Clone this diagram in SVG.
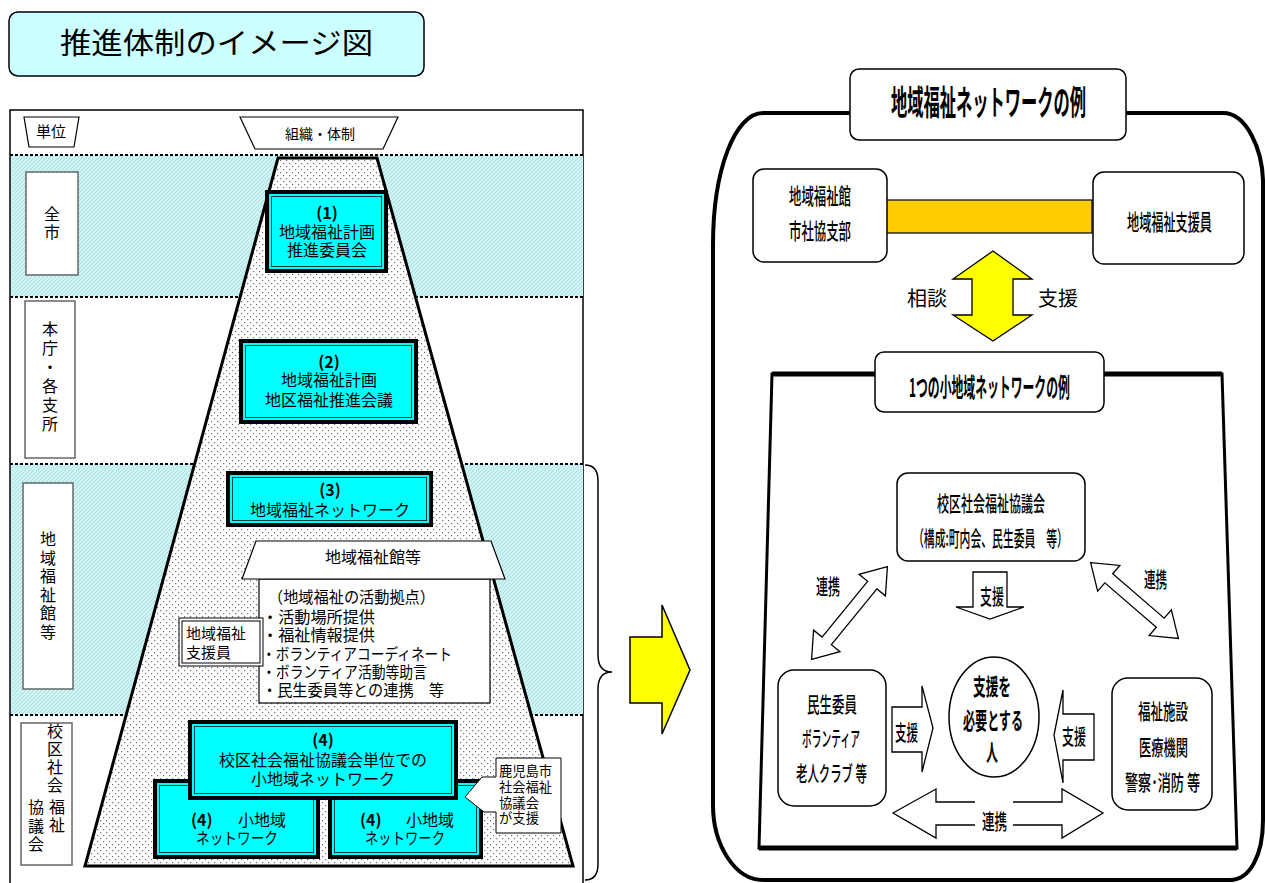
<svg xmlns="http://www.w3.org/2000/svg" width="1265" height="883" viewBox="0 0 1265 883">
<defs>
<pattern id="hatch" width="4" height="4" patternUnits="userSpaceOnUse"><rect width="4" height="4" fill="#d2f3f3"/><path d="M0,4 L4,0 M-1,1 L1,-1 M3,5 L5,3" stroke="#a3e1e1" stroke-width="1"/></pattern>
<pattern id="dots" width="6" height="6" patternUnits="userSpaceOnUse"><rect width="6" height="6" fill="#fff"/><rect x="1" y="1" width="1.2" height="1.2" fill="#707070"/><rect x="4" y="4" width="1.2" height="1.2" fill="#707070"/></pattern>
<style>
text{font-family:"Noto Sans CJK JP","Noto Sans CJK SC",sans-serif;fill:#000}
.t16{font-size:16px}
.t15{font-size:15px}
.t14{font-size:14px}
.c{text-anchor:middle}
.b{font-weight:bold}
.m{font-weight:500}
.v{writing-mode:vertical-rl;font-size:16px}
.cy{fill:#00ffff;stroke:#000;stroke-width:4}
.cyi{fill:none;stroke:#004040;stroke-width:1}
.wb{fill:#fff;stroke:#000;stroke-width:1.2}
.lab{fill:#fff;stroke:#666;stroke-width:1.5}
.rb{fill:#fff;stroke:#000;stroke-width:1.5}
.ar{fill:#fff;stroke:#000;stroke-width:1.3;stroke-linejoin:miter}
.dash{stroke:#000;stroke-width:2;stroke-dasharray:3 2}
</style>
</defs>
<rect width="1265" height="883" fill="#fff"/>

<!-- Title -->
<g id="title">
<rect x="9" y="12" width="415" height="64" rx="9" fill="#ccffff" stroke="#000" stroke-width="1.5"/>
<text x="60" y="54" style="font-size:29px" textLength="313" lengthAdjust="spacingAndGlyphs">推進体制のイメージ図</text>
</g>

<!-- Left panel -->
<g id="left-panel">
<rect x="10" y="110" width="573" height="790" fill="#fff" stroke="#000" stroke-width="1.5"/>
<rect x="11" y="155" width="572" height="142" fill="url(#hatch)"/>
<rect x="11" y="464" width="572" height="251" fill="url(#hatch)"/>
<line x1="10" y1="155" x2="583" y2="155" class="dash"/>
<line x1="10" y1="297" x2="583" y2="297" class="dash"/>
<line x1="10" y1="464" x2="583" y2="464" class="dash"/>
<line x1="10" y1="715" x2="583" y2="715" class="dash"/>
</g>

<g id="header-unit">
<polygon points="24,117 79,117 74,147 29,147" class="wb"/>
<text x="51" y="137" class="t15 c">単位</text>
</g>
<g id="header-org">
<polygon points="240,117 398,117 383,149 255,149" class="wb"/>
<text x="320" y="139" class="t14 c">組織・体制</text>
</g>

<g id="pyramid">
<polygon points="278,158 377,158 573,866 85,866" fill="url(#dots)" stroke="#000" stroke-width="3" stroke-linejoin="miter"/>
</g>

<g id="unit-zenshi">
<rect x="26" y="172" width="52" height="103" class="lab"/>
<text x="52" y="206" class="v" style="letter-spacing:2px">全市</text>
</g>
<g id="unit-honcho">
<rect x="25" y="301" width="50" height="157" class="lab"/>
<text x="50" y="321" class="v" style="letter-spacing:3px">本庁・各支所</text>
</g>
<g id="unit-kan">
<rect x="23" y="483" width="50" height="206" class="lab"/>
<text x="48" y="531" class="v" style="letter-spacing:2.6px">地域福祉館等</text>
</g>
<g id="unit-kouku">
<rect x="21" y="723" width="51" height="142" class="lab" stroke="#444"/>
<text x="55" y="723" class="v" style="letter-spacing:2px">校区社会</text>
<text x="57" y="799" class="v" style="letter-spacing:2px">福祉</text>
<text x="36" y="799" class="v" style="letter-spacing:2.5px">協議会</text>
</g>

<g id="node-1">
<rect x="267" y="192" width="119" height="79" class="cy"/>
<rect x="271.5" y="196.5" width="110" height="70" class="cyi"/>
<text class="t16 c"><tspan x="327" y="219" class="b">(1)</tspan><tspan x="327" y="238">地域福祉計画</tspan><tspan x="327" y="256">推進委員会</tspan></text>
</g>
<g id="node-2">
<rect x="241" y="341" width="175" height="81" class="cy"/>
<rect x="245.5" y="345.5" width="166" height="72" class="cyi"/>
<text class="t16 c"><tspan x="329" y="368" class="b">(2)</tspan><tspan x="329" y="386">地域福祉計画</tspan><tspan x="329" y="406">地区福祉推進会議</tspan></text>
</g>
<g id="node-3">
<rect x="228" y="473" width="203" height="52" class="cy"/>
<rect x="232.5" y="477.5" width="194" height="43" class="cyi"/>
<text class="t16 c"><tspan x="330" y="496" class="b">(3)</tspan><tspan x="330" y="516">地域福祉ネットワーク</tspan></text>
</g>

<g id="node-kan">
<rect x="259" y="579" width="231" height="124" class="wb"/>
<polygon points="256,541 491,541 505,579 242,579" class="wb"/>
<text x="373" y="563" class="t16 c">地域福祉館等</text>
<text class="t16"><tspan x="268" y="603" textLength="167" lengthAdjust="spacingAndGlyphs">（地域福祉の活動拠点）</tspan><tspan x="262" y="623" textLength="113" lengthAdjust="spacingAndGlyphs">・活動場所提供</tspan><tspan x="262" y="641" textLength="113" lengthAdjust="spacingAndGlyphs">・福祉情報提供</tspan><tspan x="262" y="660" textLength="190" lengthAdjust="spacingAndGlyphs">・ボランティアコーディネート</tspan><tspan x="262" y="678" textLength="165" lengthAdjust="spacingAndGlyphs">・ボランティア活動等助言</tspan><tspan x="262" y="696" textLength="182" lengthAdjust="spacingAndGlyphs">・民生委員等との連携　等</tspan></text>
</g>
<g id="node-shienin">
<rect x="179" y="618" width="84" height="48" fill="#fff" stroke="#000" stroke-width="1"/>
<rect x="182" y="621" width="78" height="42" fill="none" stroke="#000" stroke-width="1"/>
<text class="t15"><tspan x="186" y="639">地域福祉</tspan><tspan x="186" y="658">支援員</tspan></text>
</g>

<g id="node-4a">
<rect x="155" y="781" width="163" height="76" class="cy"/>
<rect x="159.5" y="785.5" width="154" height="67" class="cyi"/>
<text class="t16"><tspan x="191" y="826" class="b">(4)</tspan><tspan x="238" y="826">小地域</tspan><tspan x="196" y="844" textLength="82" lengthAdjust="spacingAndGlyphs">ネットワーク</tspan></text>
</g>
<g id="node-4b">
<rect x="330" y="781" width="151" height="76" class="cy"/>
<rect x="334.5" y="785.5" width="142" height="67" class="cyi"/>
<text class="t16"><tspan x="360" y="826" class="b">(4)</tspan><tspan x="406" y="826">小地域</tspan><tspan x="365" y="844" textLength="80" lengthAdjust="spacingAndGlyphs">ネットワーク</tspan></text>
</g>
<g id="node-4">
<rect x="190" y="722" width="266" height="76" class="cy"/>
<rect x="194.5" y="726.5" width="257" height="67" class="cyi"/>
<text class="t16 c"><tspan x="323" y="746" class="b">(4)</tspan><tspan x="323" y="766">校区社会福祉協議会単位での</tspan><tspan x="323" y="785">小地域ネットワーク</tspan></text>
</g>

<g id="callout">
<path d="M496,758 H561 V833 H496 V812 L484,812 L465,797 L482,777 L496,777 Z" fill="#fff" stroke="#000" stroke-width="1"/>
<text class="t14"><tspan x="499" y="776" textLength="53" lengthAdjust="spacingAndGlyphs">鹿児島市</tspan><tspan x="499" y="792" textLength="53" lengthAdjust="spacingAndGlyphs">社会福祉</tspan><tspan x="499" y="808" textLength="40" lengthAdjust="spacingAndGlyphs">協議会</tspan><tspan x="499" y="823" textLength="40" lengthAdjust="spacingAndGlyphs">が支援</tspan></text>
</g>

<g id="connectors">
<path d="M585,465 Q598,465 598,481 V655 Q598,672 612,672 Q598,672 598,689 V864 Q598,880 585,880" fill="none" stroke="#000" stroke-width="1.5"/>
<polygon points="630,637 662,637 662,605 690,670 662,734 662,703 630,703" fill="#ffff00" stroke="#000" stroke-width="1.5"/>
<rect x="886" y="200" width="206" height="33" fill="#ffcc00" stroke="#000" stroke-width="1.2"/>
<polygon points="993,251 1032,279 1013,279 1013,315 1032,315 993,341 953,315 972,315 972,279 953,279" fill="#ffff00" stroke="#000" stroke-width="1.3"/>
<polygon points="973,572 1007,572 1007,607 1024,607 990,619 956,607 973,607" class="ar"/>
<g transform="translate(849.5,613) rotate(-50.8)">
<path d="M-60,0 L-36,-17 L-36,-6 L36,-6 L36,-17 L60,0 L36,17 L36,6 L-36,6 L-36,17 Z" class="ar"/>
</g>
<g transform="translate(1134.5,600.5) rotate(40.8)">
<path d="M-58,0 L-34,-17 L-34,-6 L34,-6 L34,-17 L58,0 L34,17 L34,6 L-34,6 L-34,17 Z" class="ar"/>
</g>
<polygon points="892,707 922,707 922,686 933,728 922,772 922,752 892,752" class="ar"/>
<polygon points="1054,735 1063,690 1063,714 1094,714 1094,760 1063,760 1063,783" class="ar"/>
<polygon points="893,813 936,789 936,802 1062,802 1062,789 1103,813 1062,838 1062,825 936,825 936,838" class="ar"/>
<rect x="975" y="800" width="38" height="28" fill="#fff"/>
</g>

<!-- Right panel -->
<g id="network-frame">
<path d="M763,113 H1223 C1247,113 1262,150 1263,180 V820 C1263,855 1250,880 1230,880 H763 C735,880 713,845 713,805 V245 C713,170 735,113 763,113 Z" fill="none" stroke="#000" stroke-width="4"/>
</g>
<g id="network-title">
<rect x="850" y="69" width="276" height="71" rx="9" class="rb"/>
<text transform="translate(891,115) scale(0.478,1)" class="b" style="font-size:34px" textLength="408" lengthAdjust="spacingAndGlyphs">地域福祉ネットワークの例</text>
</g>
<g id="node-kan-r">
<rect x="753" y="169" width="134" height="93" rx="11" class="rb"/>
<text transform="translate(789,204) scale(0.5636,1)" class="m" style="font-size:22px" textLength="110" lengthAdjust="spacingAndGlyphs">地域福祉館</text>
<text transform="translate(789,239) scale(0.5636,1)" class="m" style="font-size:22px" textLength="110" lengthAdjust="spacingAndGlyphs">市社協支部</text>
</g>
<g id="node-shienin-r">
<rect x="1093" y="172" width="151" height="92" rx="11" class="rb"/>
<text transform="translate(1127,230) scale(0.552,1)" class="m" style="font-size:22px" textLength="154" lengthAdjust="spacingAndGlyphs">地域福祉支援員</text>
</g>
<g id="labels-sodan">
<text x="927" y="306" class="c" style="font-size:20px">相談</text>
<text x="1058" y="306" class="c" style="font-size:20px">支援</text>
</g>

<g id="small-network-frame">
<polygon points="772,374 1222,374 1237,848 759,848" fill="none" stroke="#000" stroke-width="3"/>
<line x1="772" y1="374" x2="1222" y2="374" stroke="#000" stroke-width="5"/>
<line x1="759" y1="848" x2="1237" y2="848" stroke="#000" stroke-width="5"/>
</g>
<g id="small-network-title">
<rect x="875" y="352" width="229" height="60" rx="9" class="rb"/>
<text transform="translate(909,397) scale(0.457,1)" class="b" style="font-size:26px" textLength="352" lengthAdjust="spacingAndGlyphs">1つの小地域ネットワークの例</text>
</g>
<g id="node-kouku-r">
<rect x="897" y="473" width="188" height="88" rx="11" class="rb"/>
<text transform="translate(937,511) scale(0.571,1)" class="m" style="font-size:21px" textLength="189" lengthAdjust="spacingAndGlyphs">校区社会福祉協議会</text>
<text transform="translate(913,546) scale(0.518,1)" class="m" style="font-size:21px" textLength="299" lengthAdjust="spacingAndGlyphs">（構成:町内会、民生委員　等）</text>
</g>
<g id="node-person">
<ellipse cx="994" cy="717" rx="45" ry="60" class="rb"/>
<text transform="translate(973,695) scale(0.551,1)" class="b" style="font-size:23px" textLength="69" lengthAdjust="spacingAndGlyphs">支援を</text>
<text transform="translate(963,729) scale(0.522,1)" class="b" style="font-size:23px" textLength="115" lengthAdjust="spacingAndGlyphs">必要とする</text>
<text transform="translate(986,761) scale(0.52,1)" class="b" style="font-size:23px" textLength="23" lengthAdjust="spacingAndGlyphs">人</text>
</g>
<g id="node-minsei">
<rect x="778" y="670" width="108" height="136" rx="16" class="rb"/>
<text transform="translate(807,712) scale(0.595,1)" class="m" style="font-size:21px" textLength="84" lengthAdjust="spacingAndGlyphs">民生委員</text>
<text transform="translate(802,746) scale(0.46,1)" class="m" style="font-size:21px" textLength="126" lengthAdjust="spacingAndGlyphs">ボランティア</text>
<text transform="translate(796,781) scale(0.544,1)" class="m" style="font-size:21px" textLength="130.5" lengthAdjust="spacingAndGlyphs">老人クラブ 等</text>
</g>
<g id="node-shisetsu">
<rect x="1112" y="678" width="100" height="132" rx="16" class="rb"/>
<text transform="translate(1138,719) scale(0.595,1)" class="m" style="font-size:21px" textLength="84" lengthAdjust="spacingAndGlyphs">福祉施設</text>
<text transform="translate(1139,755) scale(0.583,1)" class="m" style="font-size:21px" textLength="84" lengthAdjust="spacingAndGlyphs">医療機関</text>
<text transform="translate(1125,790) scale(0.625,1)" class="m" style="font-size:21px" textLength="120" lengthAdjust="spacingAndGlyphs">警察･消防 等</text>
</g>
<g id="arrow-labels">
<text transform="translate(980,604) scale(0.571,1)" class="m" style="font-size:21px" textLength="42" lengthAdjust="spacingAndGlyphs">支援</text>
<text transform="translate(816,594) scale(0.571,1)" class="m" style="font-size:21px" textLength="42" lengthAdjust="spacingAndGlyphs">連携</text>
<text transform="translate(1144,587) scale(0.55,1)" class="m" style="font-size:21px" textLength="42" lengthAdjust="spacingAndGlyphs">連携</text>
<text transform="translate(895,740) scale(0.55,1)" class="m" style="font-size:21px" textLength="42" lengthAdjust="spacingAndGlyphs">支援</text>
<text transform="translate(1062,744) scale(0.571,1)" class="m" style="font-size:21px" textLength="42" lengthAdjust="spacingAndGlyphs">支援</text>
<text transform="translate(982,829) scale(0.595,1)" class="m" style="font-size:21px" textLength="42" lengthAdjust="spacingAndGlyphs">連携</text>
</g>
</svg>
